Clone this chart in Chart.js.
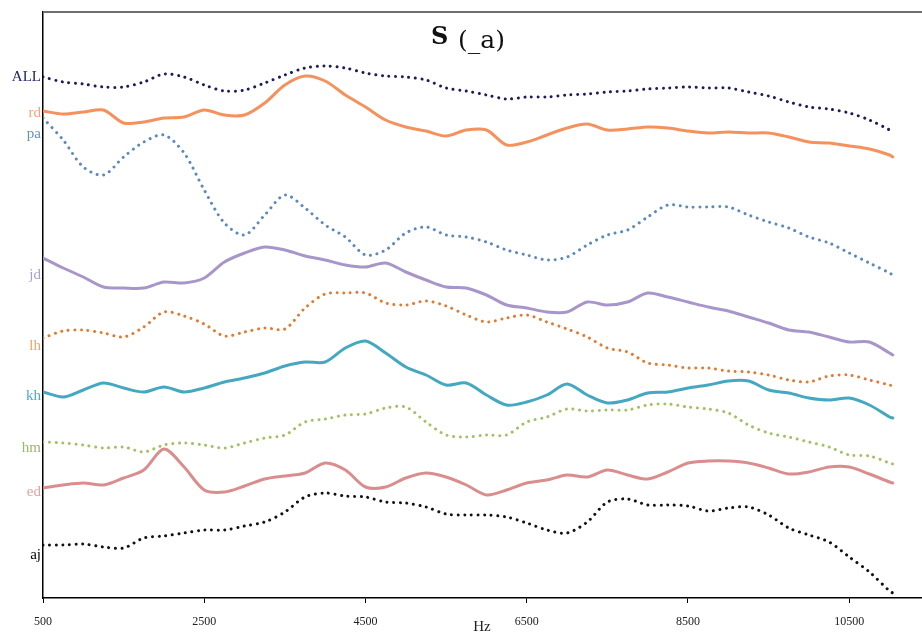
<!DOCTYPE html>
<html>
<head>
<meta charset="utf-8">
<script src="https://cdn.jsdelivr.net/npm/chart.js@4.4.1/dist/chart.umd.min.js"></script>
<style>
  html, body { margin: 0; padding: 0; background: #ffffff; }
  #wrap { width: 922px; height: 637px; }
</style>
</head>
<body>
<div id="wrap"><canvas id="c" width="922" height="637"></canvas></div>
<script>
// Frequencies (Hz)
const freqs = [500,750,1000,1250,1500,1750,2000,2250,2500,2750,3000,3250,3500,3750,4000,4250,4500,4750,5000,5250,5500,5750,6000,6250,6500,6750,7000,7250,7500,7750,8000,8250,8500,8750,9000,9250,9500,9750,10000,10250,10500,10750,11000,11040];

// Relative (stacked/offset) levels of each speaker's curve
const ALL = [521,516,514,511,511,516,524,521,513,507,508,515,523,530,532,530,525,522,521,518,510,507,503,499,501,501,503,504,506,507,509,510,511,510,510,506,502,496,491,489,485,478,468,465];
const rd  = [487,484,486,488,475,476,480,481,488,483,483,495,513,522,517,503,491,478,471,467,462,468,468,453,456,463,470,474,468,469,471,470,467,465,466,465,465,461,456,455,452,449,443,441];
const pa  = [480,458,431,423,441,456,463,445,408,375,363,383,403,390,373,361,343,348,365,371,363,361,356,348,343,338,341,353,363,368,381,393,391,391,391,383,376,370,361,355,345,335,325,323];
const jd  = [340,330,321,311,310,310,316,315,320,336,345,351,348,342,338,333,331,335,326,318,311,310,303,293,290,286,286,296,293,296,305,301,296,291,287,281,275,268,266,261,256,256,245,243];
const lh  = [260,267,268,265,261,271,286,282,274,262,266,270,269,290,304,305,305,295,293,297,292,283,276,280,283,276,269,261,250,246,235,233,230,230,227,226,223,218,216,222,223,218,213,212];
const kh  = [206,201,208,215,210,206,211,206,210,216,220,225,232,236,236,250,257,245,231,223,213,215,203,193,196,203,214,203,195,198,205,206,210,213,217,217,208,205,200,198,200,193,181,180];
const hm  = [156,155,153,150,151,146,153,155,153,150,155,160,163,176,179,183,184,190,191,176,163,161,163,163,176,181,189,187,188,188,193,194,191,189,185,173,165,161,156,151,143,142,135,134];
const ed  = [110,113,115,113,120,128,149,131,108,106,112,119,122,125,135,128,111,111,120,125,121,113,103,108,115,118,123,121,128,123,119,126,135,137,137,135,130,124,126,131,131,124,116,115];
const aj  = [53,53,54,51,50,60,62,65,68,68,72,76,86,101,105,102,101,96,95,91,84,83,83,81,75,68,65,76,96,99,93,93,92,87,90,91,83,70,63,56,41,26,7,5];

// Series names (left-hand labels) and the level at which each name is printed
const seriesNames = ['ALL','rd','pa','jd','lh','kh','hm','ed','aj'];
const nameLevels  = [521, 485, 464, 323, 252, 202, 150, 106, 43];
const xTicks = [500, 2500, 4500, 6500, 8500, 10500];
const titleMain = 'S';
const titleSub = '(_a)';
const xTitle = 'Hz';

const seriesData = [ALL, rd, pa, jd, lh, kh, hm, ed, aj];
const lineColors  = ['#1c1c5c','#f4915c','#5b88bf','#a896ca','#e27a2f','#45a8c1','#a2c163','#da8d8d','#111111'];
const labelColors = ['#23236a','#f5a27c','#6590c2','#ab9dd1','#f0a466','#4babc2','#9bb962','#e6a0a0','#000000'];
const dotted      = [true,false,true,false,true,false,true,false,true];

const datasets = seriesData.map((arr, i) => ({
  label: seriesNames[i],
  data: arr.map((v, j) => ({ x: freqs[j], y: v })),
  borderColor: lineColors[i],
  backgroundColor: lineColors[i],
  borderWidth: 3,
  borderDash: dotted[i] ? [0.01, 6.6] : [],
  borderCapStyle: 'round',
  borderJoinStyle: 'round',
  pointRadius: 0,
  tension: 0.3,
  fill: false
}));

// sorted label ticks for the y axis
const nameOrder = nameLevels.map((v, i) => i).sort((a, b) => nameLevels[a] - nameLevels[b]);

const decorPlugin = {
  id: 'decor',
  afterDraw(chart) {
    const ctx = chart.ctx;
    const a = chart.chartArea;
    ctx.save();
    // top frame line
    ctx.strokeStyle = '#6e6e6e';
    ctx.lineWidth = 2;
    ctx.beginPath();
    ctx.moveTo(a.left, a.top);
    ctx.lineTo(chart.width, a.top);
    ctx.stroke();
    // title
    ctx.fillStyle = '#111111';
    ctx.textBaseline = 'alphabetic';
    ctx.textAlign = 'left';
    ctx.font = 'bold 24px "DejaVu Serif"';
    ctx.fillText(titleMain, 431, 44);
    ctx.font = '25px "DejaVu Serif"';
    ctx.fillText(titleSub, 458, 48);
    ctx.restore();
  }
};

new Chart(document.getElementById('c'), {
  type: 'line',
  data: { datasets },
  options: {
    responsive: false,
    animation: false,
    devicePixelRatio: 1,
    layout: { padding: { top: 12, right: 1, left: 0, bottom: 0 } },
    plugins: { legend: { display: false }, tooltip: { enabled: false }, title: { display: false } },
    scales: {
      x: {
        type: 'linear',
        min: 500,
        max: 11390,
        afterBuildTicks: (s) => { s.ticks = xTicks.map(v => ({ value: v })); },
        afterFit: (s) => { s.height = 39; },
        border: { display: true, color: '#000000', width: 1.5 },
        grid: { display: true, drawOnChartArea: false, drawTicks: true, tickLength: 5, color: '#000000', lineWidth: 1 },
        ticks: {
          color: '#222222',
          font: { family: 'Liberation Serif', size: 12 },
          padding: 12,
          maxRotation: 0,
          autoSkip: false,
          callback: (v) => String(v)
        },
        title: {
          display: true,
          text: xTitle,
          color: '#222222',
          font: { family: 'Liberation Serif', size: 15 },
          padding: { top: 0, bottom: 1 }
        }
      },
      y: {
        type: 'linear',
        min: 0,
        max: 586,
        afterBuildTicks: (s) => { s.ticks = nameOrder.map(i => ({ value: nameLevels[i] })); },
        afterFit: (s) => { s.width = 43; },
        border: { display: true, color: '#000000', width: 1.5 },
        grid: { display: false, drawTicks: false },
        ticks: {
          autoSkip: false,
          padding: 2,
          font: { family: 'Liberation Serif', size: 15 },
          color: (c) => labelColors[nameOrder[c.index]],
          callback: (v, idx) => seriesNames[nameOrder[idx]]
        }
      }
    }
  },
  plugins: [decorPlugin]
});
</script>
</body>
</html>
